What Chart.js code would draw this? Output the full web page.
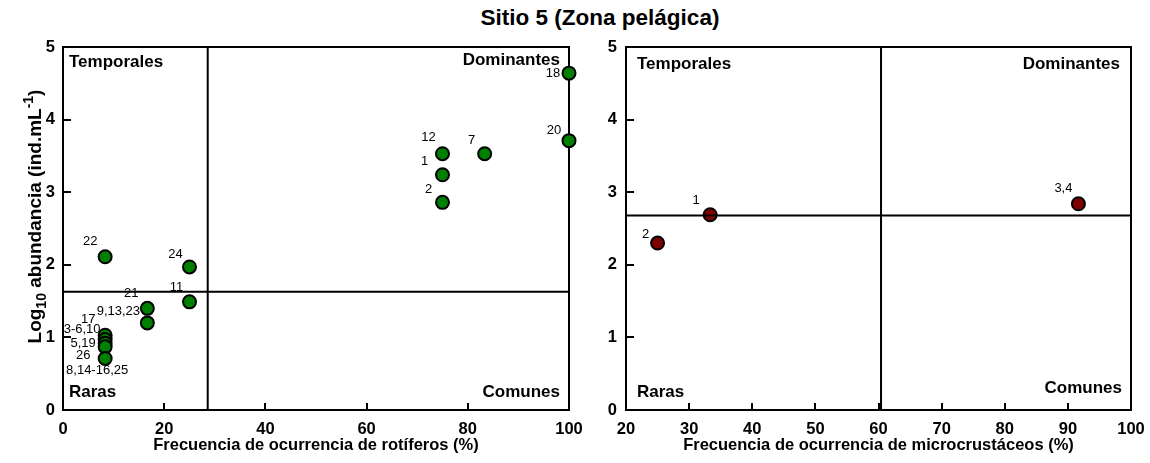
<!DOCTYPE html>
<html><head><meta charset="utf-8">
<script src="https://cdn.jsdelivr.net/npm/chart.js@4.4.1/dist/chart.umd.min.js"></script>
<style>
html,body{margin:0;padding:0;background:#fff;width:1150px;height:463px;overflow:hidden;}
#title{position:absolute;left:300px;top:5px;width:600px;text-align:center;font:bold 22.5px "Liberation Sans",Arial,sans-serif;color:#000;}
.wrap{position:absolute;top:0;height:463px;}
</style></head><body>
<div id="title">Sitio 5 (Zona pelágica)</div>
<div class="wrap" style="left:0;width:595px"><canvas id="c1"></canvas></div>
<div class="wrap" style="left:595px;width:555px"><canvas id="c2"></canvas></div>
<script>
// ---------- DATA ----------
const rotLabels = ['22','24','11','21','9,13,23','17','3-6,10','5,19','26','8,14-16,25','12','1','2','7','18','20'];
const rotFreq   = [8.33,25,25,16.67,16.67,8.33,8.33,8.33,8.33,8.33,75,75,75,83.33,100,100];
const rotLogAb  = [2.11,1.97,1.49,1.40,1.20,1.03,0.97,0.92,0.87,0.71,3.53,3.24,2.86,3.53,4.64,3.71];
const rotCut    = {freq: 28.6, logAb: 1.63};

const micLabels = ['1','2','3,4'];
const micFreq   = [33.33,25,91.67];
const micLogAb  = [2.69,2.30,2.84];
const micCut    = {freq: 60.4, logAb: 2.68};

const quadrantNames = ['Temporales','Dominantes','Raras','Comunes'];
const rotXTitle = 'Frecuencia de ocurrencia de rotíferos (%)';
const micXTitle = 'Frecuencia de ocurrencia de microcrustáceos (%)';

// ---------- LAYOUT (label offsets in px, not data) ----------
const rotLabelOffsets = [[-15,-15],[-14,-13],[-13,-14],[-16,-15],[-29,-11],[-17,-16],[-23,-10],[-22,0],[-22,9],[-8,12],[-14,-16],[-18,-13],[-14,-13],[-13,-13],[-16,0],[-15,-10]];
const micLabelOffsets = [[-14,-14],[-12,-9],[-15,-15]];

const FF = '"Liberation Sans", Arial, sans-serif';

const quadPlugin = {
  id: 'quad',
  beforeDatasetsDraw(chart, args, o) {
    const {ctx, chartArea: a, scales: {x, y}} = chart;
    ctx.save();
    ctx.strokeStyle = '#000';
    ctx.lineWidth = 2;
    ctx.strokeRect(a.left, a.top, a.right - a.left, a.bottom - a.top);
    ctx.beginPath();
    x.ticks.forEach(t => {
      if (t.value > x.min && t.value < x.max) {
        const px = Math.round(x.getPixelForValue(t.value));
        ctx.moveTo(px, a.bottom); ctx.lineTo(px, a.bottom - 7);
      }
    });
    y.ticks.forEach(t => {
      if (t.value > y.min && t.value < y.max) {
        const py = Math.round(y.getPixelForValue(t.value));
        ctx.moveTo(a.left, py); ctx.lineTo(a.left + 8, py);
      }
    });
    ctx.stroke();
    ctx.restore();
  },
  afterDatasetsDraw(chart, args, o) {
    const {ctx, chartArea: a, scales: {x, y}} = chart;
    ctx.save();
    // quadrant dividing lines
    ctx.strokeStyle = '#000';
    ctx.lineWidth = 2;
    const vx = x.getPixelForValue(o.cut.freq), hy = y.getPixelForValue(o.cut.logAb);
    ctx.beginPath();
    ctx.moveTo(vx, a.top); ctx.lineTo(vx, a.bottom);
    ctx.moveTo(a.left, hy); ctx.lineTo(a.right, hy);
    ctx.stroke();
    // point labels
    ctx.fillStyle = '#000';
    ctx.font = '13px ' + FF;
    ctx.textAlign = 'center';
    ctx.textBaseline = 'middle';
    const meta = chart.getDatasetMeta(0);
    meta.data.forEach((el, i) => {
      const off = o.offsets[i];
      ctx.fillText(o.labels[i], el.x + off[0], el.y + off[1]);
    });
    // quadrant names
    ctx.font = 'bold 17px ' + FF;
    const q = o.quad;
    ctx.textAlign = 'left';
    ctx.fillText(quadrantNames[0], a.left + q[0][0], a.top + q[0][1]);
    ctx.fillText(quadrantNames[2], a.left + q[2][0], a.bottom - q[2][1]);
    ctx.textAlign = 'right';
    ctx.fillText(quadrantNames[1], a.right - q[1][0], a.top + q[1][1]);
    ctx.fillText(quadrantNames[3], a.right - q[3][0], a.bottom - q[3][1]);
    ctx.restore();
    // y title
    if (o.yTitle) {
      ctx.save();
      ctx.translate(o.yTitle.cx, (a.top + a.bottom) / 2 + o.yTitle.dy);
      ctx.rotate(-Math.PI / 2);
      ctx.fillStyle = '#000';
      ctx.textBaseline = 'alphabetic';
      ctx.textAlign = 'left';
      const big = 'bold 19px ' + FF, small = 'bold 14px ' + FF;
      const parts = [['Log', big, 0], ['10', small, 5], [' abundancia (ind.mL', big, 0], ['-1', small, -8], [')', big, 0]];
      let total = 0;
      parts.forEach(p => { ctx.font = p[1]; total += ctx.measureText(p[0]).width; });
      let cur = -total / 2;
      parts.forEach(p => { ctx.font = p[1]; ctx.fillText(p[0], cur, 6 + p[2]); cur += ctx.measureText(p[0]).width; });
      ctx.restore();
    }
  }
};

function makeChart(id, cfg) {
  const pts = cfg.freq.map((f, i) => ({x: f, y: cfg.logAb[i]}));
  return new Chart(document.getElementById(id), {
    type: 'scatter',
    data: { datasets: [{
      data: pts,
      backgroundColor: cfg.color,
      borderColor: '#000',
      borderWidth: 2,
      pointRadius: 6.5,
      pointHoverRadius: 6.5,
      clip: false
    }]},
    options: {
      responsive: true,
      maintainAspectRatio: false,
      animation: false,
      devicePixelRatio: 1,
      events: [],
      layout: { padding: { top: 47, right: cfg.padRight, left: 0, bottom: 0 } },
      plugins: {
        legend: { display: false },
        tooltip: { enabled: false },
        title: { display: false },
        quad: { cut: cfg.cut, labels: cfg.labels, offsets: cfg.offsets, quad: cfg.quad, yTitle: cfg.yTitle }
      },
      scales: {
        x: {
          type: 'linear', min: cfg.xMin, max: 100,
          grid: { display: false, drawTicks: false },
          border: { display: false },
          ticks: { stepSize: cfg.xStep, padding: 10, color: '#000', font: { family: FF, size: 16.5, weight: 'bold' } },
          title: { display: true, text: cfg.xTitle, color: '#000', padding: { top: 0, bottom: 8 }, font: { family: FF, size: 16.5, weight: 'bold' } },
          afterFit: s => { s.height = 53; s.paddingLeft = 0; s.paddingRight = 0; }
        },
        y: {
          type: 'linear', min: 0, max: 5,
          grid: { display: false, drawTicks: false },
          border: { display: false },
          ticks: { stepSize: 1, padding: cfg.yPad, color: '#000', font: { family: FF, size: 16.5, weight: 'bold' } },
          afterFit: s => { s.width = cfg.yWidth; s.paddingTop = 0; s.paddingBottom = 0; }
        }
      }
    },
    plugins: [quadPlugin]
  });
}

makeChart('c1', {
  freq: rotFreq, logAb: rotLogAb, labels: rotLabels, offsets: rotLabelOffsets, cut: rotCut,
  color: '#008000', xMin: 0, xStep: 20, xTitle: rotXTitle, padRight: 26, yWidth: 63, yPad: 8,
  quad: [[6,15],[9,13],[6,18],[9,18]],
  yTitle: { cx: 35, dy: -12 }
});
makeChart('c2', {
  freq: micFreq, logAb: micLogAb, labels: micLabels, offsets: micLabelOffsets, cut: micCut,
  color: '#800000', xMin: 20, xStep: 10, xTitle: micXTitle, padRight: 19, yWidth: 31, yPad: 9,
  quad: [[11,17],[11,17],[11,18],[9,22]],
  yTitle: null
});
</script>
</body></html>
